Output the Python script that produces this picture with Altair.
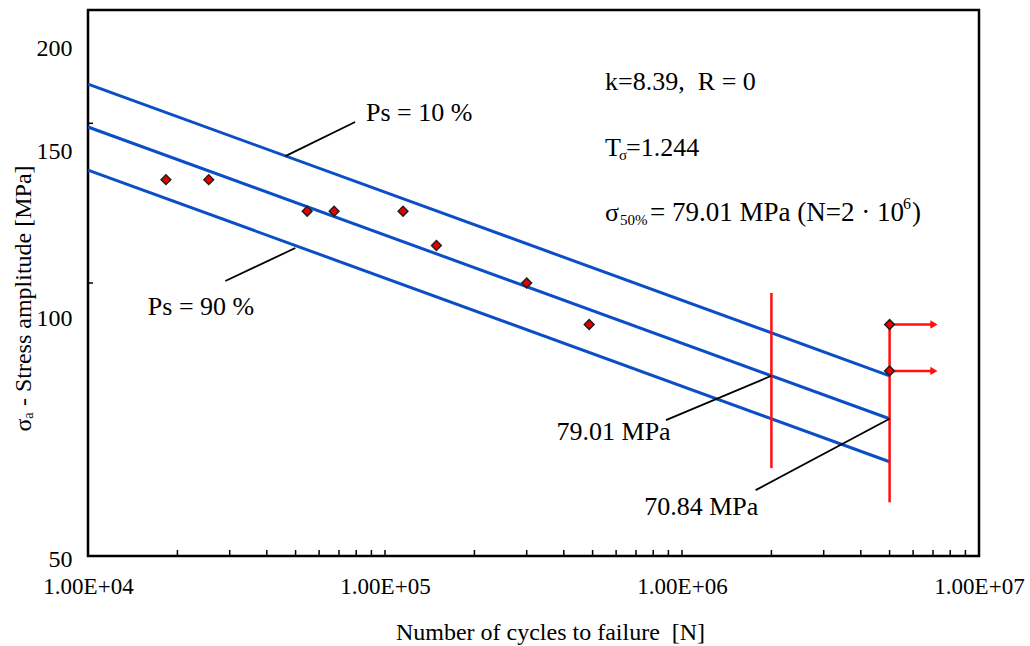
import altair as alt
import pandas as pd

FONT = "Liberation Serif"
NB = "\u00a0"

# ---- data ----
# failures
cycles = [1.83e4, 2.55e4, 5.47e4, 6.74e4, 1.15e5, 1.49e5, 3.0e5, 4.87e5]
stress = [130, 130, 120, 120, 120, 110, 100, 90]
# run-outs
runout_cycles = [5e6, 5e6]
runout_stress = [90, 80]
arrow_end = [7.0e6, 7.0e6]
arrow_head = [7.05e6, 7.05e6]

# S-N lines (Ps = 10 %, 50 %, 90 %)
line_cycles = [1e4, 5e6]
ps10 = [165.7, 79.01]
ps50 = [148.6, 70.84]
ps90 = [133.2, 63.52]

# red scatter bands
band_cycles = [2e6, 5e6]
band_top = [97.5, 90]
band_bottom = [62.5, 57.3]

# leader lines
lead_n1 = [4.62e4, 4.99e4, 8.83e5, 1.77e6]
lead_s1 = [138.0, 109.3, 70.6, 59.1]
lead_n2 = [7.93e4, 2.90e4, 2e6, 5e6]
lead_s2 = [150.5, 100.5, 79.01, 70.84]

# annotation texts
ann_text = ["Ps = 10 %", "Ps = 90 %", "79.01 MPa", "70.84 MPa"]
ann_n = [8.63e4, 1.59e4, 3.78e5, 7.46e5]
ann_s = [154.0, 94.1, 68.5, 56.6]

x_ticks = [1e4, 1e5, 1e6, 1e7]
y_ticks = [50, 100, 150, 200]
minor_x = [m * 10 ** e for e in (4, 5, 6) for m in range(2, 11)]
minor_y = [100, 150]

xscale = alt.Scale(type="log", domain=[1e4, 1e7], nice=False)
yscale = alt.Scale(type="log", domain=[50, 200], nice=False)

xaxis = alt.Axis(
    values=x_ticks, labelExpr="replace(upper(format(datum.value, '.2e')), '+', '+0')",
    labelFont=FONT, labelFontSize=23, labelColor="black", labelPadding=19,
    labelFlush=False, labelOverlap=False, ticks=False, domain=False, grid=False,
    title="Number of cycles to failure" + NB + NB + "[N]", titleFont=FONT, titleFontSize=24,
    titleFontWeight="normal", titleColor="black", titleX=462, titleY=76,
    titleBaseline="middle", titleAlign="center",
)
yaxis = alt.Axis(
    values=y_ticks, labelFont=FONT, labelFontSize=24, labelColor="black",
    labelPadding=16, labelOverlap=False, ticks=False, domain=False, grid=False,
    labelOffset=alt.ExprRef(expr="datum.value == 200 ? 38 : datum.value == 150 ? 28 : datum.value == 100 ? 35 : 3"),
    title="σₐ - Stress amplitude [MPa]", titleFont=FONT, titleFontSize=24,
    titleFontWeight="normal", titleColor="black", titleX=-65, titleY=288,
    titleBaseline="middle", titleAlign="center",
)

X = lambda f="N": alt.X(f + ":Q", scale=xscale, axis=xaxis)
Y = lambda f="S": alt.Y(f + ":Q", scale=yscale, axis=yaxis)

lines_df = pd.DataFrame({
    "N": line_cycles * 3,
    "S": ps10 + ps50 + ps90,
    "Ps": ["10"] * 2 + ["50"] * 2 + ["90"] * 2,
})
lines = alt.Chart(lines_df).mark_line(color="#0b4fc6", strokeWidth=3).encode(
    x=X(), y=Y(), detail="Ps:N")

band_df = pd.DataFrame({"N": band_cycles, "S": band_top, "S2": band_bottom})
bands = alt.Chart(band_df).mark_rule(color="#ff1010", strokeWidth=2.5).encode(
    x=X(), y=Y(), y2="S2:Q")

lead_df = pd.DataFrame({"N": lead_n1, "S": lead_s1, "N2": lead_n2, "S2": lead_s2})
leaders = alt.Chart(lead_df).mark_rule(color="black", strokeWidth=1.8).encode(
    x=X(), y=Y(), x2="N2:Q", y2="S2:Q")

arrow_df = pd.DataFrame({"N": runout_cycles, "S": runout_stress, "N2": arrow_end, "H": arrow_head})
shafts = alt.Chart(arrow_df).mark_rule(color="#ff1010", strokeWidth=2.5).encode(
    x=X(), y=Y(), x2="N2:Q")
heads = alt.Chart(arrow_df).mark_point(shape="triangle-right", filled=True, color="#ff1010",
                                       size=70, opacity=1).encode(x=X("H"), y=Y())

pts_df = pd.DataFrame({"N": cycles + runout_cycles, "S": stress + runout_stress})
points = alt.Chart(pts_df).mark_point(shape="diamond", filled=True, fill="#e60000",
                                      stroke="#202020", strokeWidth=1.5, size=95,
                                      opacity=1).encode(x=X(), y=Y())

xt_df = pd.DataFrame({"N": minor_x})
xticks = alt.Chart(xt_df).mark_rule(color="black", strokeWidth=1.5).encode(
    x=X(), y=alt.value(546), y2=alt.value(540))
yt_df = pd.DataFrame({"S": minor_y})
yticks = alt.Chart(yt_df).mark_rule(color="black", strokeWidth=1.5).encode(
    y=Y(), x=alt.value(0), x2=alt.value(5))

ann_df = pd.DataFrame({"N": ann_n, "S": ann_s, "t": ann_text})
ann = alt.Chart(ann_df).mark_text(font=FONT, fontSize=26, align="left", baseline="middle",
                                  color="black").encode(x=X(), y=Y(), text="t:N")

# top-right parameter block (pieces for sub/superscripts)
info_n = 5.51e5
info = []
def piece(txt, s, dx, dy=0, size=26):
    d = pd.DataFrame({"N": [info_n], "S": [s], "t": [txt]})
    return alt.Chart(d).mark_text(font=FONT, fontSize=size, align="left", baseline="middle",
                                  color="black", dx=dx, dy=dy).encode(x=X(), y=Y(), text="t:N")

info.append(piece("k=8.39," + NB + NB + "R = 0", 166.6, 0))
info.append(piece("T", 140.9, 0))
info.append(piece("σ", 140.9, 14, 7, 15))
info.append(piece("=1.244", 140.9, 21))
info.append(piece("σ", 119.5, 0))
info.append(piece("50%", 119.5, 15, 7, 15))
info.append(piece("= 79.01 MPa (N=2 · 10", 119.5, 45, 0, 27))
info.append(piece("6", 119.5, 298, -9, 16))
info.append(piece(")", 119.5, 307, 0, 27))

chart = alt.layer(lines, bands, leaders, shafts, heads, points, xticks, yticks, ann, *info).properties(
    width=891, height=546,
    padding={"left": 88, "top": 10, "right": 51, "bottom": 90},
    autosize="none",
    background="white",
).configure_view(stroke="black", strokeWidth=2.5)

chart.save("out.html", embed_options={"renderer": "svg", "actions": False})
